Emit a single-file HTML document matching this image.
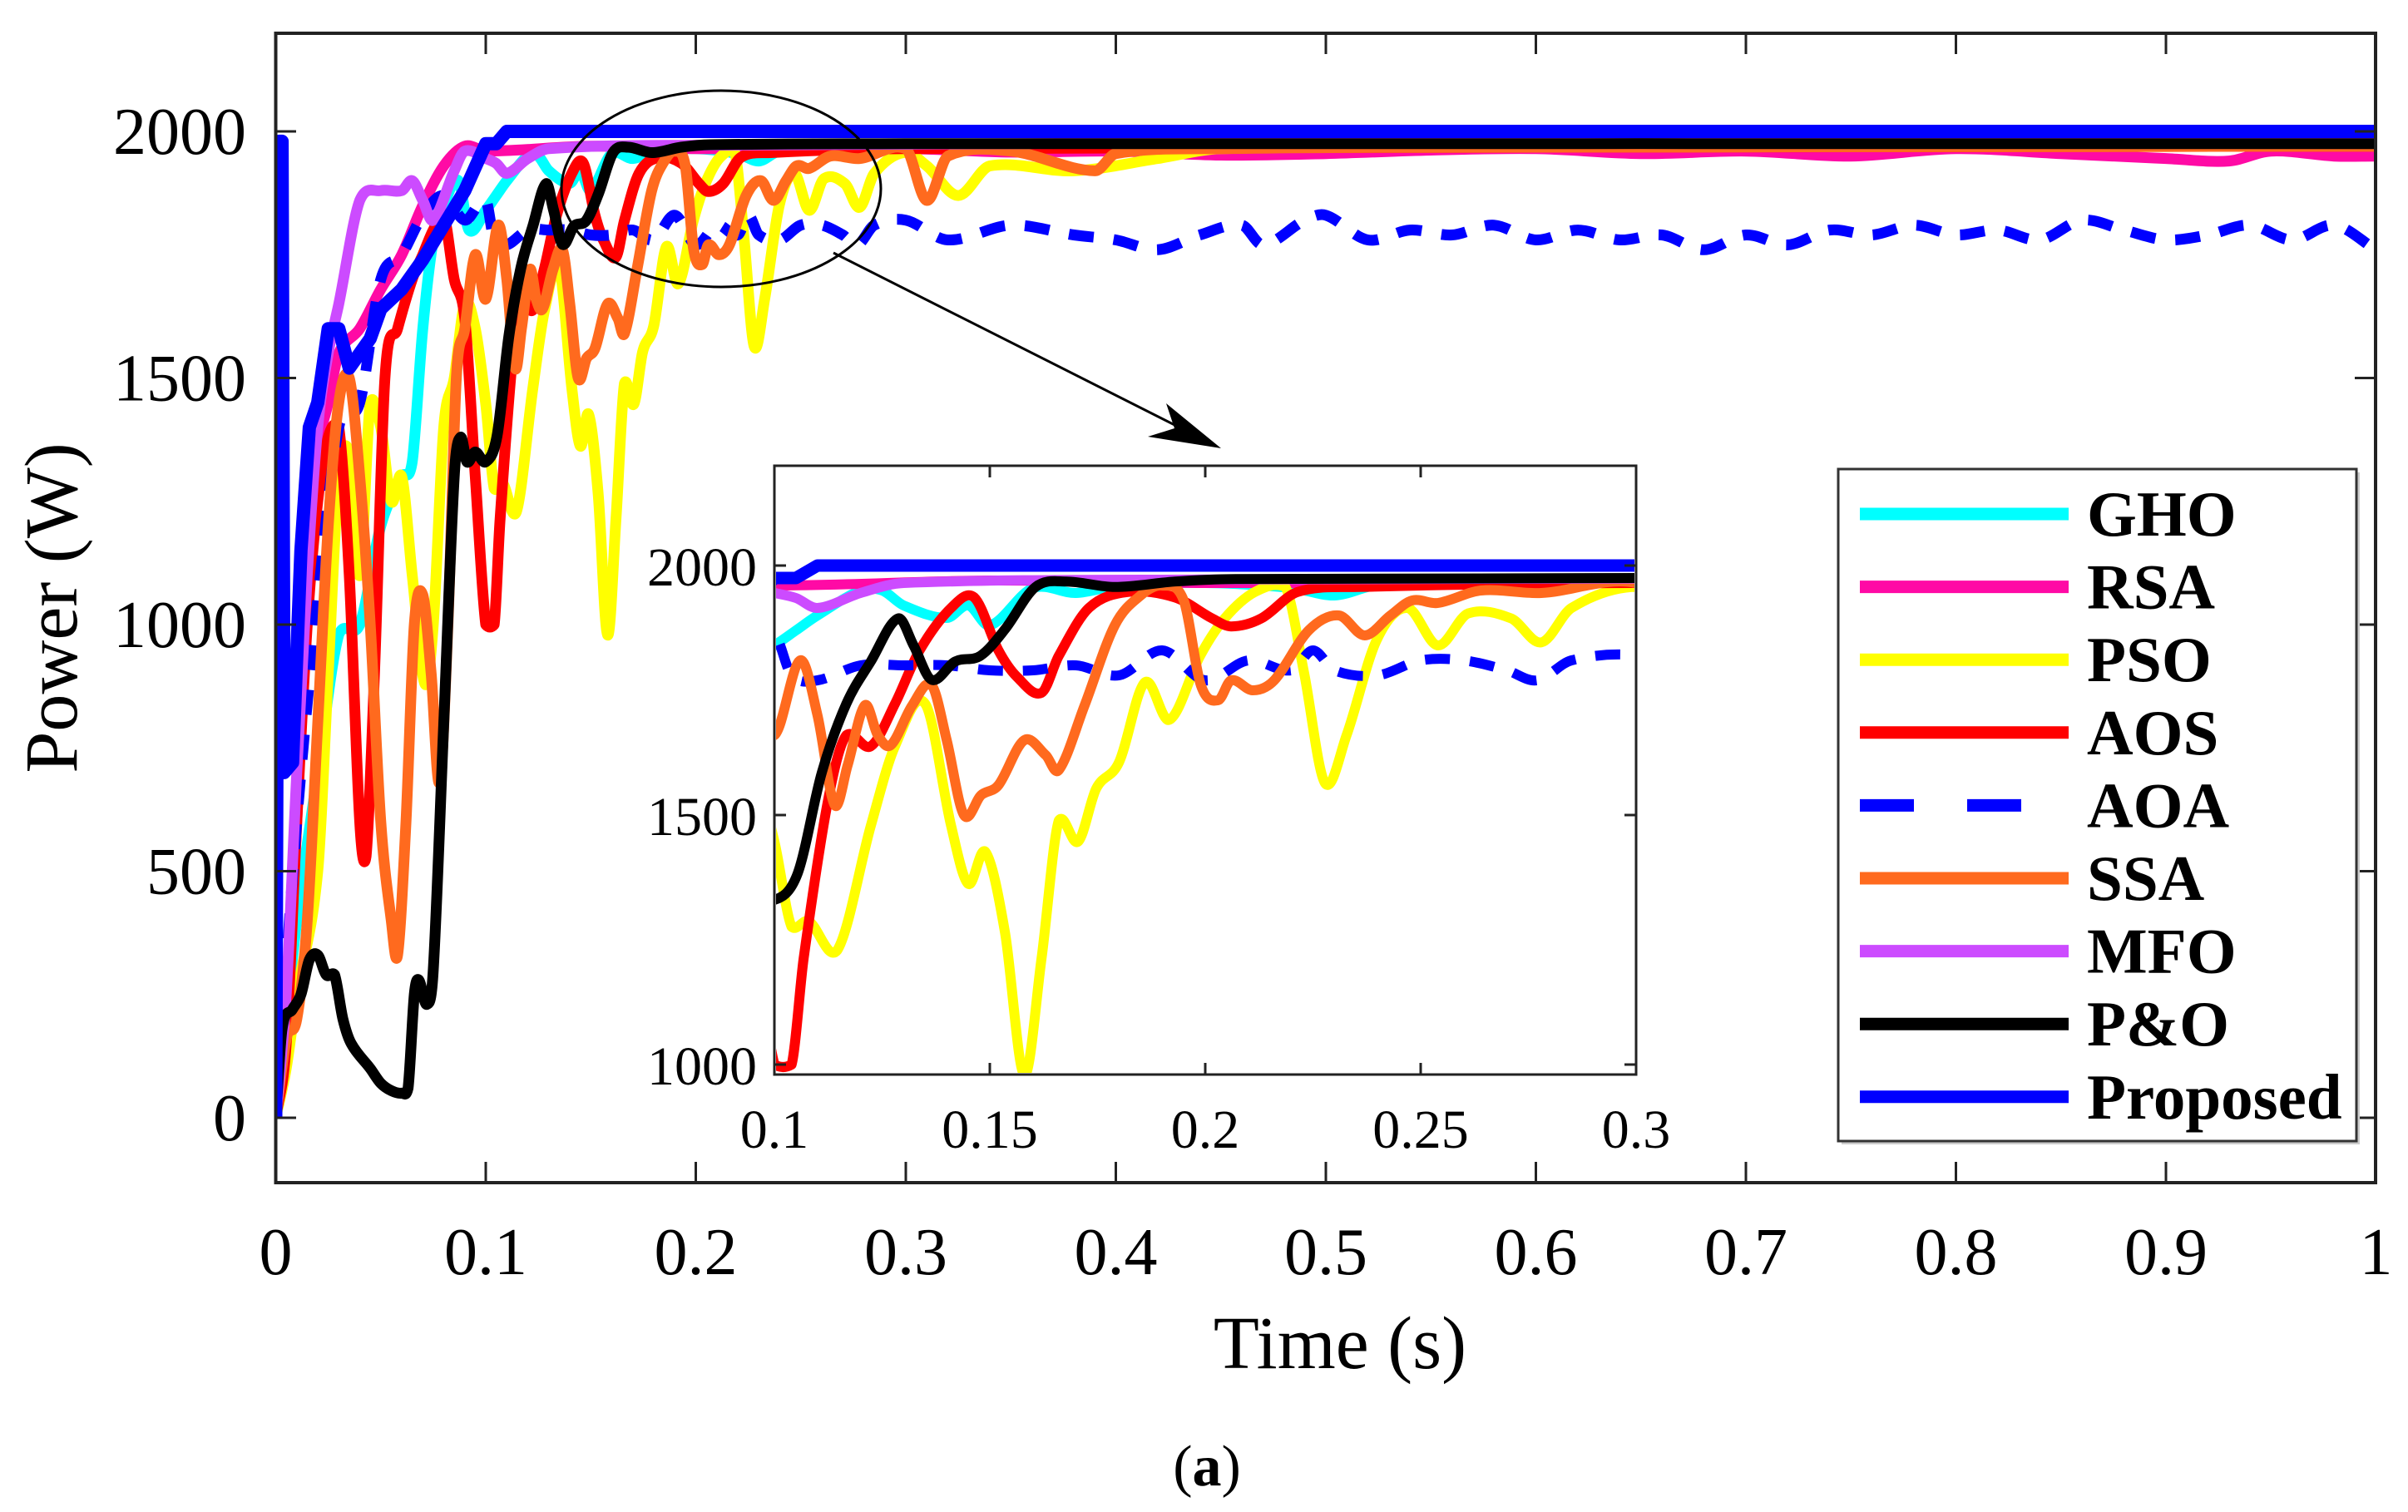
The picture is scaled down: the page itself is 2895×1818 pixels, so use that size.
<!DOCTYPE html>
<html><head><meta charset="utf-8"><style>
html,body{margin:0;padding:0;background:#fff;}
svg{display:block;}
text{font-family:"Liberation Serif",serif;}
</style></head><body>
<svg id="chart" width="2895" height="1818" viewBox="0 0 2895 1818" xmlns="http://www.w3.org/2000/svg">
<defs>
<clipPath id="mainClip"><rect x="333" y="42" width="2521" height="1378"/></clipPath>
<clipPath id="insetClip"><rect x="933" y="562" width="1032" height="728"/></clipPath>
</defs>
<rect x="0" y="0" width="2895" height="1818" fill="#fff"/>
<g id="mainLines" clip-path="url(#mainClip)"></g>
<g id="mainAxes"></g>
<ellipse cx="867" cy="227" rx="192" ry="118" fill="none" stroke="#000" stroke-width="3"/>
<line x1="1002" y1="304" x2="1440" y2="525" stroke="#000" stroke-width="3"/>
<polygon points="1468,539 1380,525 1412,515 1402,485" fill="#000"/>
<rect x="931" y="560" width="1036" height="732" fill="#fff"/>
<g id="insetLines" clip-path="url(#insetClip)"></g>
<g id="insetAxes"></g>
<g id="legend"></g>
<text x="1611" y="1645" font-size="90" text-anchor="middle">Time (s)</text>
<text x="0" y="0" font-size="90" text-anchor="middle" transform="translate(92,731) rotate(-90)">Power (W)</text>
<text x="1451" y="1786" font-size="70" text-anchor="middle">(<tspan font-weight="bold">a</tspan>)</text>
</svg>
<script>
const seriesNames = ["GHO","RSA","PSO","AOS","AOA","SSA","MFO","P&O","Proposed"];
const seriesColors = ["#00ffff","#ff0aa5","#ffff00","#ff0000","#0000ff","#ff6a1e","#cc4bff","#000000","#0000ff"];
const xTicksMain = [0,0.1,0.2,0.3,0.4,0.5,0.6,0.7,0.8,0.9,1];
const xTickLabelsMain = ["0","0.1","0.2","0.3","0.4","0.5","0.6","0.7","0.8","0.9","1"];
const yTicksMain = [0,500,1000,1500,2000];
const xTicksInset = [0.1,0.15,0.2,0.25,0.3];
const xTickLabelsInset = ["0.1","0.15","0.2","0.25","0.3"];
const yTicksInset = [1000,1500,2000];

const ghoT = [0,0.005,0.01,0.02,0.03,0.04,0.05,0.06,0.065,0.07,0.075,0.08,0.087,0.092,0.1,0.105,0.11,0.12,0.125,0.13,0.14,0.145,0.15,0.16,0.17,0.18,0.2,0.22,0.23,0.24,0.3,0.5,0.7,1];
const ghoV = [0,200,400,700,980,1000,1200,1300,1330,1600,1780,1850,1900,1800,1840,1870,1900,1950,1950,1920,1895,1920,1880,1955,1945,1960,1965,1955,1940,1960,1965,1968,1970,1970];
const rsaT = [0,0.005,0.01,0.015,0.02,0.025,0.03,0.04,0.05,0.06,0.07,0.08,0.09,0.1,0.15,0.2,0.3,0.35,0.4,0.45,0.5,0.55,0.6,0.65,0.7,0.75,0.8,0.85,0.9,0.93,0.95,0.98,1];
const rsaV = [0,200,600,1100,1350,1450,1550,1600,1680,1750,1850,1930,1970,1960,1970,1965,1965,1958,1960,1952,1955,1962,1965,1955,1960,1950,1965,1955,1945,1940,1960,1950,1950];
const psoT = [0,0.005,0.01,0.02,0.025,0.03,0.035,0.04,0.045,0.05,0.055,0.06,0.065,0.071,0.075,0.08,0.085,0.09,0.095,0.1,0.104,0.108,0.1146,0.1224,0.128,0.135,0.141,0.145,0.149,0.1535,0.158,0.162,0.166,0.1705,0.1747,0.18,0.186,0.1917,0.1988,0.2045,0.2115,0.2186,0.2229,0.2278,0.2328,0.2398,0.2469,0.254,0.261,0.271,0.278,0.285,0.299,0.31,0.325,0.34,0.38,0.42,0.45,0.6,1];
const psoV = [0,100,250,500,900,1300,1350,1100,1450,1400,1250,1300,1100,880,1000,1400,1500,1650,1600,1447,1276,1287,1229,1479,1638,1723,1479,1362,1426,1266,979,1213,1489,1447,1553,1606,1766,1691,1819,1894,1947,1957,1787,1564,1660,1851,1915,1840,1904,1894,1846,1915,1957,1930,1870,1930,1920,1945,1965,1968,1970];
const aosT = [0,0.005,0.01,0.015,0.02,0.025,0.03,0.035,0.04,0.043,0.047,0.052,0.058,0.065,0.07,0.075,0.08,0.085,0.09,0.095,0.1,0.104,0.1068,0.1125,0.1167,0.1224,0.128,0.1337,0.141,0.1464,0.152,0.1563,0.162,0.166,0.173,0.182,0.193,0.2016,0.206,0.213,0.2214,0.2356,0.3,0.6,1];
const aosV = [0,150,600,1000,1250,1380,1400,1100,600,530,900,1500,1600,1700,1750,1800,1830,1700,1620,1300,1000,1000,1213,1532,1660,1638,1723,1830,1915,1936,1830,1777,1745,1819,1915,1947,1936,1894,1878,1894,1947,1957,1965,1968,1970];
const aoaT = [0,0.01,0.02,0.03,0.04,0.05,0.06,0.07,0.08,0.09,0.1,0.104,0.11,0.12,0.13,0.14,0.15,0.16,0.17,0.18,0.19,0.2,0.21,0.22,0.225,0.23,0.24,0.25,0.26,0.27,0.277,0.285,0.3,0.32,0.35,0.38,0.4,0.42,0.44,0.46,0.47,0.49,0.5,0.52,0.54,0.56,0.58,0.6,0.62,0.64,0.66,0.68,0.7,0.72,0.74,0.76,0.78,0.8,0.82,0.84,0.86,0.88,0.9,0.92,0.94,0.96,0.98,1];
const aoaV = [0,600,1050,1400,1450,1700,1750,1830,1870,1820,1860,1780,1770,1800,1800,1800,1790,1790,1800,1780,1830,1770,1810,1790,1830,1790,1780,1810,1810,1790,1770,1810,1820,1780,1810,1790,1780,1760,1790,1810,1770,1820,1830,1780,1800,1790,1810,1780,1800,1780,1790,1760,1790,1770,1800,1790,1810,1790,1800,1780,1820,1800,1780,1790,1810,1780,1810,1760];
const ssaT = [0,0.005,0.01,0.015,0.02,0.025,0.03,0.035,0.04,0.045,0.05,0.055,0.058,0.062,0.066,0.07,0.074,0.078,0.082,0.086,0.09,0.095,0.1,0.106,0.11,0.114,0.117,0.121,0.124,0.127,0.132,0.1365,0.14,0.144,0.148,0.152,0.158,0.163,0.166,0.172,0.179,0.185,0.19,0.195,0.199,0.203,0.206,0.211,0.216,0.224,0.231,0.237,0.243,0.248,0.254,0.264,0.278,0.3,0.31,0.32,0.35,0.39,0.4,0.45,0.6,1];
const ssaV = [0,160,200,400,800,1200,1450,1500,1300,1000,600,400,330,600,1000,1060,900,680,1000,1500,1600,1750,1660,1810,1700,1520,1600,1720,1660,1640,1720,1760,1650,1500,1540,1560,1650,1620,1590,1720,1880,1940,1960,1930,1760,1730,1770,1750,1770,1870,1900,1860,1900,1930,1925,1950,1945,1965,1860,1950,1960,1920,1955,1965,1968,1970];
const mfoT = [0,0.005,0.01,0.015,0.02,0.025,0.03,0.04,0.05,0.06,0.065,0.07,0.075,0.085,0.09,0.1,0.105,0.11,0.12,0.13,0.2,0.5,1];
const mfoV = [0,250,700,1100,1400,1550,1650,1860,1880,1880,1900,1860,1820,1920,1960,1945,1935,1915,1945,1965,1972,1978,1980];
const poT = [0,0.003,0.008,0.012,0.016,0.02,0.024,0.028,0.032,0.036,0.045,0.05,0.055,0.06,0.063,0.066,0.068,0.072,0.075,0.08,0.085,0.088,0.091,0.095,0.1,0.1054,0.111,0.1167,0.1224,0.1287,0.1323,0.1365,0.142,0.1478,0.1535,0.1606,0.1677,0.179,0.193,0.207,0.3,1];
const poV = [0,180,220,250,320,330,290,290,200,150,100,70,55,50,60,250,280,230,300,800,1300,1380,1330,1350,1330,1383,1585,1723,1808,1894,1840,1771,1808,1819,1872,1957,1968,1957,1968,1973,1975,1975];
const propT = [0,0.0015,0.003,0.004,0.008,0.012,0.016,0.02,0.025,0.03,0.035,0.045,0.05,0.06,0.07,0.08,0.09,0.1,0.105,0.11,0.12,1];
const propV = [0,1980,1980,700,720,1150,1400,1450,1600,1600,1520,1580,1640,1680,1740,1810,1880,1975,1975,2000,2000,2000];

const allT = [ghoT,rsaT,psoT,aosT,aoaT,ssaT,mfoT,poT,propT];
const allV = [ghoV,rsaV,psoV,aosV,aoaV,ssaV,mfoV,poV,propV];

const NS = "http://www.w3.org/2000/svg";
function mx(t){return 331.5 + t*2525;}
function my(v){return 158 + (2000-v)*0.593;}
function ix(t){return 931 + (t-0.1)/0.2*1036;}
function iy(v){return 680 + (2000-v)*0.6;}
function mk(tag, attrs, parent){const e=document.createElementNS(NS,tag);for(const k in attrs)e.setAttribute(k,attrs[k]);parent.appendChild(e);return e;}

function smoothPath(P){
  let d="M"+P[0][0].toFixed(1)+","+P[0][1].toFixed(1);
  for(let i=0;i<P.length-1;i++){
    const p0=P[Math.max(0,i-1)], p1=P[i], p2=P[i+1], p3=P[Math.min(P.length-1,i+2)];
    const dx=p2[0]-p1[0];
    let t1=(p2[1]-p0[1])/Math.max(1e-6,(p2[0]-p0[0]));
    let t2=(p3[1]-p1[1])/Math.max(1e-6,(p3[0]-p1[0]));
    const k=dx/3;
    let c1y=p1[1]+t1*k, c2y=p2[1]-t2*k;
    const lo=Math.min(p1[1],p2[1])-Math.abs(p2[1]-p1[1])*0.3-4, hi=Math.max(p1[1],p2[1])+Math.abs(p2[1]-p1[1])*0.3+4;
    c1y=Math.min(hi,Math.max(lo,c1y)); c2y=Math.min(hi,Math.max(lo,c2y));
    d+="C"+(p1[0]+k).toFixed(1)+","+c1y.toFixed(1)+" "+(p2[0]-k).toFixed(1)+","+c2y.toFixed(1)+" "+p2[0].toFixed(1)+","+p2[1].toFixed(1);
  }
  return d;
}

const mainLines=document.getElementById('mainLines');
const insetLines=document.getElementById('insetLines');
for(let s=0;s<seriesNames.length;s++){
  const T=allT[s], V=allV[s];
  const P1=[], P2=[];
  for(let i=0;i<T.length;i++){P1.push([mx(T[i]),my(V[i])]);P2.push([ix(T[i]),iy(V[i])]);}
  let d1, d2;
  if(s===8){
    d1=""; d2="";
    for(let i=0;i<P1.length;i++){d1+=(i?"L":"M")+P1[i][0].toFixed(1)+","+P1[i][1].toFixed(1);d2+=(i?"L":"M")+P2[i][0].toFixed(1)+","+P2[i][1].toFixed(1);}
  } else { d1=smoothPath(P1); d2=smoothPath(P2); }
  const w = s===8?16:13;
  const p1=mk('path',{d:d1,fill:'none',stroke:seriesColors[s],'stroke-width':w,'stroke-linejoin':'round'},mainLines);
  
  
  const p2=mk('path',{d:d2,fill:'none',stroke:seriesColors[s],'stroke-width':w-1,'stroke-linejoin':'round'},insetLines);
  
  
  if(s===4){p1.setAttribute('stroke-dasharray','30 24');p2.setAttribute('stroke-dasharray','30 24');}
}

const ax=document.getElementById('mainAxes');
const frame=mk('rect',{x:331.5,y:40,width:2524.5,height:1382,fill:'none',stroke:'#222','stroke-width':4},ax);


for(let i=0;i<xTicksMain.length;i++){
  const x=mx(xTicksMain[i]);
  mk('line',{x1:x,y1:1422,x2:x,y2:1397,stroke:'#222','stroke-width':3},ax);
  mk('line',{x1:x,y1:40,x2:x,y2:65,stroke:'#222','stroke-width':3},ax);
  const t=mk('text',{x:x,y:1532,'font-size':80,'text-anchor':'middle'},ax);
  t.textContent=xTickLabelsMain[i];
  
  
}
for(let i=0;i<yTicksMain.length;i++){
  const y=my(yTicksMain[i]);
  mk('line',{x1:331.5,y1:y,x2:356,y2:y,stroke:'#222','stroke-width':3},ax);
  mk('line',{x1:2856,y1:y,x2:2831,y2:y,stroke:'#222','stroke-width':3},ax);
  const t=mk('text',{x:296,y:y+27,'font-size':80,'text-anchor':'end'},ax);
  t.textContent=String(yTicksMain[i]);
  
  
}

const ia=document.getElementById('insetAxes');
const iframe=mk('rect',{x:931,y:560,width:1036,height:732,fill:'none',stroke:'#222','stroke-width':3},ia);


for(let i=0;i<xTicksInset.length;i++){
  const x=ix(xTicksInset[i]);
  mk('line',{x1:x,y1:1292,x2:x,y2:1278,stroke:'#222','stroke-width':3},ia);
  mk('line',{x1:x,y1:560,x2:x,y2:574,stroke:'#222','stroke-width':3},ia);
  const t=mk('text',{x:x,y:1380,'font-size':66,'text-anchor':'middle','font-family':'Liberation Sans, sans-serif'},ia);
  t.textContent=xTickLabelsInset[i];
  
  
}
for(let i=0;i<yTicksInset.length;i++){
  const y=iy(yTicksInset[i]);
  mk('line',{x1:931,y1:y,x2:945,y2:y,stroke:'#222','stroke-width':3},ia);
  mk('line',{x1:1967,y1:y,x2:1953,y2:y,stroke:'#222','stroke-width':3},ia);
  const t=mk('text',{x:910,y:y+24,'font-size':66,'text-anchor':'end','font-family':'Liberation Sans, sans-serif'},ia);
  t.textContent=String(yTicksInset[i]);
  
  
}

const lg=document.getElementById('legend');
mk('rect',{x:2214,y:568,width:623,height:808,fill:'#ccc'},lg);
const box=mk('rect',{x:2210,y:564,width:623,height:808,fill:'#fff',stroke:'#333','stroke-width':3},lg);


for(let i=0;i<seriesNames.length;i++){
  const y=618+i*87.6;
  const l=mk('line',{x1:2236,y1:y,x2:2487,y2:y,stroke:seriesColors[i],'stroke-width':15},lg);
  if(i===4) l.setAttribute('stroke-dasharray','65 64');
  
  
  const t=mk('text',{x:2509,y:y+26,'font-size':77,'font-weight':'bold'},lg);
  t.textContent=seriesNames[i];
  
  
}
</script>
</body></html>
